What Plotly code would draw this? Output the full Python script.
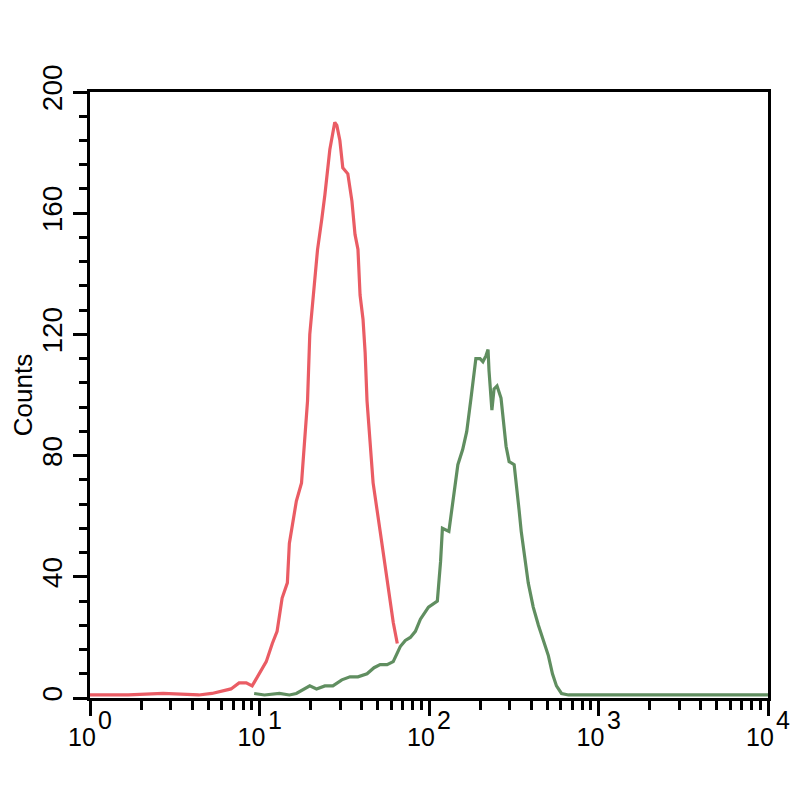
import plotly.graph_objects as go

# Red (control) histogram: fluorescence intensity vs counts
red_x = [1.0, 1.68, 2.7, 4.38, 5.24, 5.77, 6.79, 7.58, 8.35, 9.05, 9.96, 10.96, 11.9, 12.7,
         13.6, 14.6, 15.0, 16.5, 17.7, 19.2, 19.8, 21.2, 22.0, 23.3, 24.3, 26.0, 27.8, 28.6,
         29.8, 31.0, 33.2, 35.1, 36.6, 38.1, 39.2, 40.8, 42.0, 43.1, 46.8, 51.5, 56.6, 61.5, 65.0]
red_y = [1, 1, 1.5, 1, 1.5, 2, 3, 5, 5, 4, 8, 12, 18, 22,
         33, 38, 51, 65, 71, 98, 120, 137, 148, 158, 166, 181, 190, 189,
         184, 175, 173, 164, 153, 148, 133, 125, 114, 98, 71, 55, 38, 25, 18]

# Green (stained) histogram
green_x = [9.3, 10.7, 13.1, 15.0, 16.5, 19.8, 21.7, 24.3, 27.1, 30.6, 34.2, 38.1, 43.1, 47.4,
           51.5, 56.6, 61.5, 67.7, 72.5, 77.6, 83.1, 89.0, 99.3, 112, 117, 120, 131, 138,
           148, 158, 167, 177, 184, 189, 200, 208, 217, 223, 226, 232, 235, 242, 252, 266,
           277, 285, 297, 318, 340, 350, 385, 412, 442, 473, 506, 535, 565, 605, 666, 1374,
           4110, 10000]
green_y = [1.5, 1, 1.5, 1, 1.5, 4, 3, 4, 4, 6, 7, 7, 8, 10,
           11, 11, 12, 17, 19, 20, 22, 26, 30, 32, 45, 56, 55, 65,
           77, 82, 88, 99, 108, 112, 112, 111, 113, 115, 108, 96, 95, 102, 103, 99,
           88, 83, 78, 77, 62, 55, 38, 30, 24, 19, 14, 8, 4, 1.5, 1, 1,
           1, 1]

x_exponents = [0, 1, 2, 3, 4]
x_tickvals = [10 ** e for e in x_exponents]
x_ticktext = ["10" for e in x_exponents]
x_minor = [m * 10 ** k for k in range(4) for m in range(2, 10)]

FONT = "Liberation Sans, Arial, sans-serif"

fig = go.Figure()
fig.add_trace(go.Scatter(x=red_x, y=red_y, mode="lines",
                         line=dict(color="rgb(234,92,100)", width=3.2), showlegend=False))
fig.add_trace(go.Scatter(x=green_x, y=green_y, mode="lines",
                         line=dict(color="rgb(96,142,96)", width=3.2), showlegend=False))

# exponents of the x tick labels, nearly as large as the base as in the reference
for e in x_exponents:
    fig.add_annotation(x=e, xref="x", y=0, yref="paper", text=str(e),
                       showarrow=False, xanchor="left", yanchor="top",
                       xshift=6, yshift=-6,
                       font=dict(size=25, family=FONT, color="black"))

fig.update_layout(
    width=800, height=800,
    margin=dict(l=82, r=40, t=84, b=110),
    paper_bgcolor="white", plot_bgcolor="white",
    font=dict(family=FONT, color="black"),
)
fig.update_xaxes(
    type="log", range=[0, 4], automargin=False,
    tickmode="array", tickvals=x_tickvals, ticktext=x_ticktext,
    tickfont=dict(size=25, family=FONT, color="black"),
    ticklabelshift=-8,
    ticks="outside", ticklen=15, tickwidth=2.5, tickcolor="black",
    minor=dict(tickmode="array", tickvals=x_minor, ticks="outside",
               ticklen=9, tickwidth=2.5, tickcolor="black"),
    showline=True, linewidth=3, linecolor="black", mirror=True,
    showgrid=False, zeroline=False,
)
fig.update_yaxes(
    range=[0, 200], dtick=40, tick0=0, automargin=False,
    tickangle=-90,
    tickfont=dict(size=28, family=FONT, color="black"),
    ticks="outside", ticklen=14, tickwidth=2.5, tickcolor="black",
    minor=dict(dtick=8, ticks="outside", ticklen=8, tickwidth=2.5, tickcolor="black"),
    showline=True, linewidth=3, linecolor="black", mirror=True,
    showgrid=False, zeroline=False,
    title=dict(text="Counts", font=dict(size=26, family=FONT, color="black"), standoff=4),
)

fig.write_html("out.html")
